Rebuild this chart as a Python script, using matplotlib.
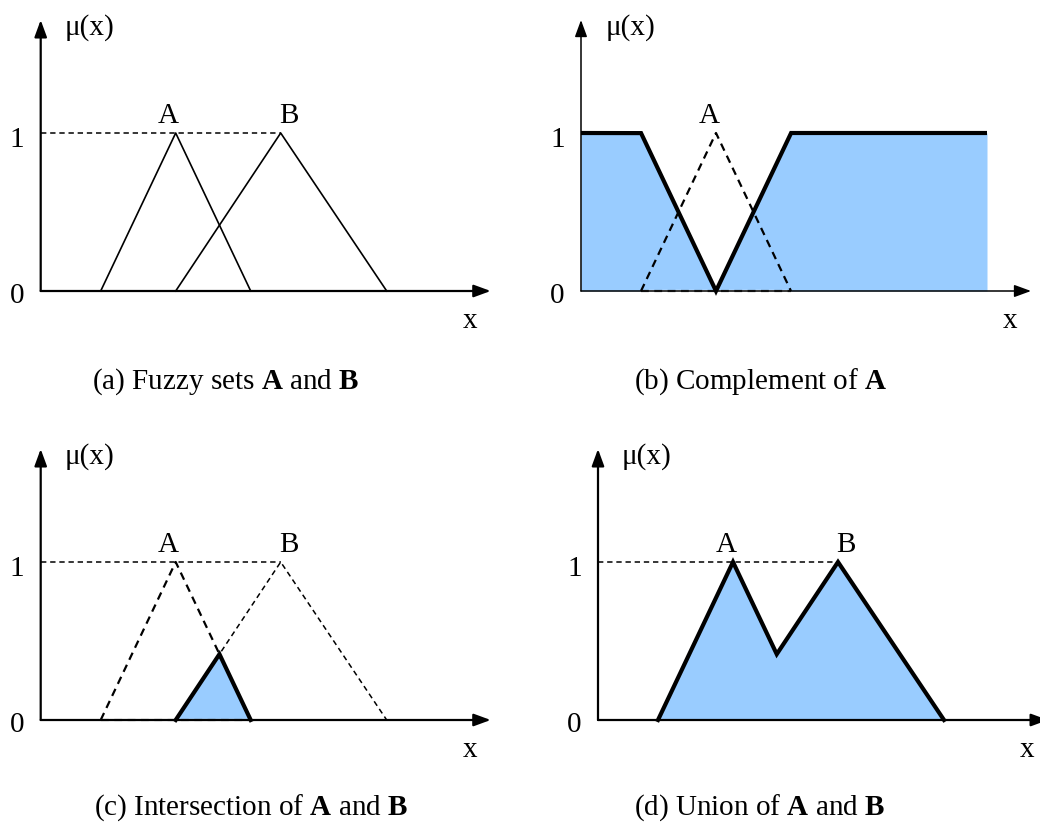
import numpy as np
import matplotlib
matplotlib.use("Agg")
import matplotlib.pyplot as plt

plt.rcParams['font.family'] = ['Liberation Serif', 'DejaVu Serif']
plt.rcParams['mathtext.fontset'] = 'custom'
plt.rcParams['mathtext.rm'] = 'Liberation Serif'
plt.rcParams['mathtext.bf'] = 'Liberation Serif:bold'

# triangular fuzzy sets: (left foot, peak, right foot)
set_a = [6.0, 13.5, 21.0]
set_b = [13.5, 24.0, 34.6]
universe_end = 40.6
axis_end = 45.0

captions = [r"(a) Fuzzy sets $\mathbf{A}$ and $\mathbf{B}$",
            r"(b) Complement of $\mathbf{A}$",
            r"(c) Intersection of $\mathbf{A}$ and $\mathbf{B}$",
            r"(d) Union of $\mathbf{A}$ and $\mathbf{B}$"]
caption_x = [18.5, 18.0, 21.0, 16.2]

FILL = '#99CCFF'
FS = 21
W, H = 1040, 822
PX_X, PX_Y = 10.0, 158.0       # pixels per data unit


def tri(x, abc):
    return np.interp(x, abc, [0, 1, 0], left=0, right=0)


def make_axes(fig, ox, oy):
    # ox, oy: pixel position of the origin
    left, right, below, above = 4.5, 47.0, 0.7, 1.8
    ax = fig.add_axes([(ox - left * PX_X) / W,
                       (H - oy - below * PX_Y) / H,
                       (left + right) * PX_X / W,
                       (below + above) * PX_Y / H])
    ax.set_xlim(-left, right)
    ax.set_ylim(-below, above)
    ax.axis('off')
    return ax


def draw_frame(ax, axis_lw=1.6):
    arrow = dict(arrowstyle='-|>,head_length=0.6,head_width=0.22', lw=axis_lw,
                 color='black', mutation_scale=17, shrinkA=0, shrinkB=0)
    ax.annotate('', xy=(axis_end, 0), xytext=(0, 0), arrowprops=arrow,
                annotation_clip=False)
    ax.annotate('', xy=(0, 1.715), xytext=(0, 0), arrowprops=arrow,
                annotation_clip=False)
    ax.text(-2.35, -0.03, '0', ha='center', va='center', fontsize=FS)
    ax.text(-2.35, 0.955, '1', ha='center', va='center', fontsize=FS)
    ax.text(4.9, 1.665, 'μ(x)', ha='center', va='center', fontsize=FS)
    ax.text(42.9, -0.19, 'x', ha='center', va='center', fontsize=FS)


def label_peaks(ax, sets=('A', 'B')):
    if 'A' in sets:
        ax.text(set_a[1] - 0.7, 1.105, 'A', ha='center', va='center', fontsize=FS)
    if 'B' in sets:
        ax.text(set_b[1] + 0.8, 1.105, 'B', ha='center', va='center', fontsize=FS)


def level_line(ax):
    ax.plot([0, set_b[1]], [1, 1], color='black', lw=1.1, ls=(0, (3.5, 2.5)))


fig = plt.figure(figsize=(W / 100, H / 100), dpi=100)
xs = np.linspace(0, universe_end, 8121)
mu_a = tri(xs, set_a)
mu_b = tri(xs, set_b)

# (a) the two fuzzy sets
ax = make_axes(fig, 40.7, 291)
draw_frame(ax)
level_line(ax)
ax.plot(set_a, [0, 1, 0], color='black', lw=1.2)
ax.plot(set_b, [0, 1, 0], color='black', lw=1.2)
label_peaks(ax)
ax.text(caption_x[0], -0.575, captions[0], ha='center', va='center', fontsize=FS)

# (b) complement of A
ax = make_axes(fig, 581, 291)
comp = 1 - mu_a
ax.fill_between(xs, 0, comp, color=FILL, lw=0)
draw_frame(ax, axis_lw=1.1)
ax.plot([set_a[0], set_a[2]], [0, 0], color='#444444', lw=1.6,
        ls=(0, (3.5, 2.5)), gapcolor='white')
ax.plot(set_a, [0, 1, 0], color='black', lw=1.6, ls=(0, (3.5, 2.5)))
ax.plot(xs, comp, color='black', lw=3.0, solid_joinstyle='miter',
        solid_capstyle='butt')
label_peaks(ax, sets=('A',))
ax.text(caption_x[1], -0.575, captions[1], ha='center', va='center', fontsize=FS)

# (c) intersection of A and B
ax = make_axes(fig, 40.7, 720)
inter = np.minimum(mu_a, mu_b)
ax.fill_between(xs, 0, inter, color=FILL, lw=0)
draw_frame(ax)
level_line(ax)
ax.plot([set_a[0], set_a[2]], [0, 0], color='#888888', lw=1.6,
        ls=(0, (3.5, 2.5)), gapcolor='white')
ax.plot(set_a, [0, 1, 0], color='black', lw=1.6, ls=(0, (3.5, 2.5)))
ax.plot(set_b, [0, 1, 0], color='black', lw=1.1, ls=(0, (3.5, 2.5)))
band = (xs >= set_b[0]) & (xs <= set_a[2])
ax.plot(xs[band], inter[band], color='black', lw=3.0, solid_joinstyle='miter')
label_peaks(ax)
ax.text(caption_x[2], -0.555, captions[2], ha='center', va='center', fontsize=FS)

# (d) union of A and B
ax = make_axes(fig, 598, 720)
union = np.maximum(mu_a, mu_b)
ax.fill_between(xs, 0, union, color=FILL, lw=0)
draw_frame(ax)
level_line(ax)
band = (xs >= set_a[0]) & (xs <= set_b[2])
ax.plot(xs[band], union[band], color='black', lw=3.0, solid_joinstyle='miter')
label_peaks(ax)
ax.text(caption_x[3], -0.555, captions[3], ha='center', va='center', fontsize=FS)

fig.savefig('out.png', dpi=100, facecolor='white')
